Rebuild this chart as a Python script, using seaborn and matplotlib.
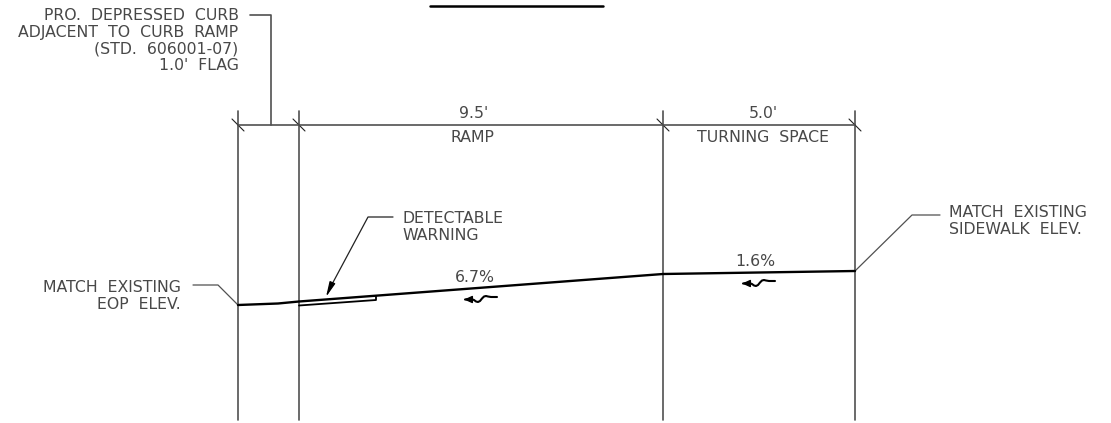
import pandas as pd
import matplotlib.pyplot as plt
import seaborn as sns

sns.set_theme(style="white")
plt.rcParams["font.family"] = "DejaVu Sans"

# all values, in picture pixels
station_x = [238, 299, 663, 855]
ext_top = 111
ext_bottom = 420
dim_y = 125

profile_x = [238, 278, 299, 663, 855]
profile_y = [305, 303.5, 301.5, 274, 271]

warning_x = [299, 376, 376]
warning_y = [305.5, 300, 296.5]

flag_x = [250, 271, 271]
flag_y = [15, 15, 125]
eop_x = [193, 218, 238]
eop_y = [285, 285, 305]
walk_x = [940, 912, 855]
walk_y = [215, 215, 271]
warn_lead_x = [393, 368, 330]
warn_lead_y = [217, 217, 288]

title_x = [430, 603]
title_y = [6, 6]

# little squiggle of the flow arrows, relative to the arrow tip
flow_dx = [0, 6, 9, 11, 13, 15, 17, 19, 21, 23, 26, 32]
flow_dy = [0, -0.5, 0.5, 2, 2.5, 1.5, -1, -3, -3.5, -3, -2.5, -2.5]
flow_tips = [(465, 299.5), (743, 283.5)]

GREY = "#505050"

fig = plt.figure(figsize=(11.11, 4.23), dpi=100)
ax = fig.add_axes([0, 0, 1, 1])


def draw(xs, ys, color=GREY, lw=1.2):
    sns.lineplot(data=pd.DataFrame({"x": xs, "y": ys}), x="x", y="y", sort=False,
                 estimator=None, color=color, linewidth=lw, ax=ax, legend=False)


for sx in station_x:
    draw([sx, sx], [ext_top, ext_bottom])
    draw([sx - 6, sx + 6], [dim_y - 6, dim_y + 6], color="#222222", lw=0.8)
draw([station_x[0], station_x[-1]], [dim_y, dim_y])

draw(flag_x, flag_y)
draw(eop_x, eop_y, lw=0.9)
draw(walk_x, walk_y, lw=0.9)
draw(warn_lead_x, warn_lead_y, color="#222222", lw=0.9)
ax.annotate("", xy=(326, 297), xytext=(warn_lead_x[-1], warn_lead_y[-1]),
            arrowprops=dict(arrowstyle="-|>,head_length=0.75,head_width=0.15", color="black",
                            lw=0.9, shrinkA=0, shrinkB=0))

draw(profile_x, profile_y, color="black", lw=1.7)
draw(warning_x, warning_y, color="black", lw=1.3)
draw(title_x, title_y, color="black", lw=1.8)

for tx, ty in flow_tips:
    draw([tx + d for d in flow_dx], [ty + d for d in flow_dy], color="black", lw=1.5)
    ax.annotate("", xy=(tx - 1, ty), xytext=(tx + 8, ty),
                arrowprops=dict(arrowstyle="-|>,head_length=0.4,head_width=0.18",
                                color="black", lw=1, shrinkA=0, shrinkB=0))

fs = 11.3
kw = dict(fontsize=fs, color="#484848", linespacing=1.15)
ax.text(238.5, 40.5, "PRO.  DEPRESSED  CURB\nADJACENT  TO  CURB  RAMP\n(STD.  606001-07)\n1.0'  FLAG",
        ha="right", va="center", **kw)
ax.text(474, 114, "9.5'", ha="center", va="center", **kw)
ax.text(472, 137, "RAMP", ha="center", va="center", **kw)
ax.text(763, 114, "5.0'", ha="center", va="center", **kw)
ax.text(763, 137, "TURNING  SPACE", ha="center", va="center", **kw)
ax.text(402, 227, "DETECTABLE\nWARNING", ha="left", va="center", **kw)
ax.text(181, 296, "MATCH  EXISTING\nEOP  ELEV.", ha="right", va="center", **kw)
ax.text(949, 221, "MATCH  EXISTING\nSIDEWALK  ELEV.", ha="left", va="center", **kw)
ax.text(475, 278, "6.7%", ha="center", va="center", **kw)
ax.text(755, 261, "1.6%", ha="center", va="center", **kw)

ax.set_xlim(0, 1111)
ax.set_ylim(423, 0)
ax.axis("off")

fig.savefig("out.png", dpi=100)
